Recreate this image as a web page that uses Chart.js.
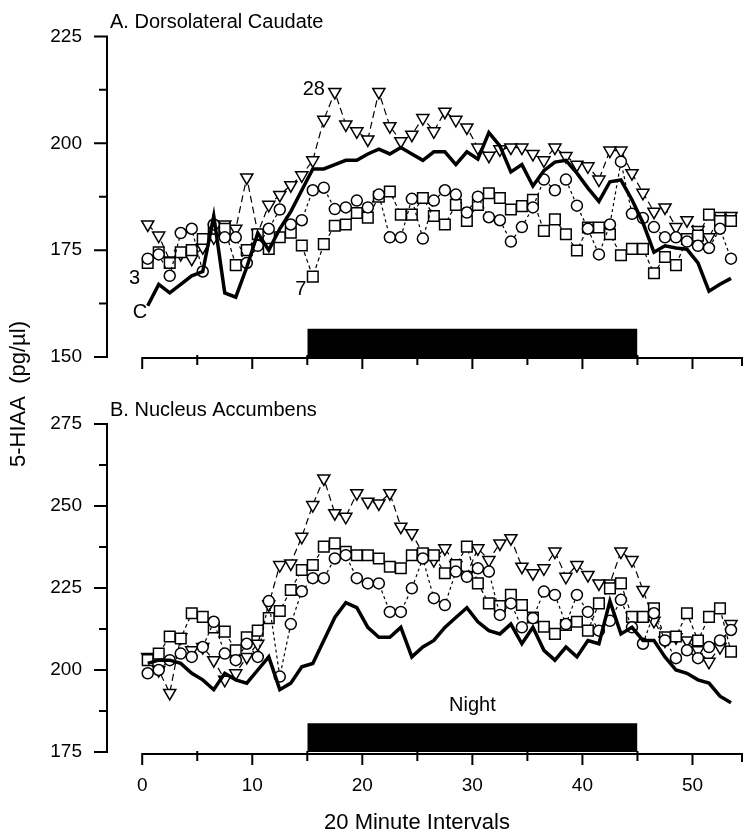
<!DOCTYPE html>
<html>
<head>
<meta charset="utf-8">
<script src="https://cdn.jsdelivr.net/npm/chart.js@4.4.1/dist/chart.umd.min.js"></script>
<style>
  html, body { margin: 0; padding: 0; background: #fff; }
  #wrap { position: relative; width: 751px; height: 840px; }
  #wrap canvas { position: absolute; left: 0; top: 0; }
</style>
</head>
<body>
<div id="wrap">
  <canvas id="panelA" width="751" height="840"></canvas>
  <canvas id="panelB" width="751" height="840"></canvas>
</div>
<script>
// 20 minute intervals (points plotted at the middle of each interval)
const intervals = [1,2,3,4,5,6,7,8,9,10,11,12,13,14,15,16,17,18,19,20,21,22,23,24,25,26,27,
  28,29,30,31,32,33,34,35,36,37,38,39,40,41,42,43,44,45,46,47,48,49,50,51,52,53,54];
const xTicks = [0, 10, 20, 30, 40, 50];
const yTicksA = [150, 175, 200, 225];
const yTicksB = [175, 200, 225, 250, 275];
const night = [15, 45];

// A. Dorsolateral Caudate, 5-HIAA pg/ul
const caudateC = [162,167,165,167,169,170,183,165,164,171, 179,175,180,184,189,194,194,195,196,196,
  197.5,198.6,197.5,199,197.5,196,198,198,195,198, 196.3,202.5,199.4,193.3,195,190,193.6,195.6,196,193,
  189.5,186.4,191,191.4,186.8,181.4,174.5,176,175.5,175.2, 172,165.4,167,168.4];
const caudate3 = [173,174,169,179,180,170,181,178,178,172, 176,180,184.5,181,182,189,189.6,184.6,185,186.6,
  185,188,178,178,187,177.7,186.6,189,188,183.8, 187.5,182.7,182,177,180.4,185,191.5,189,191.5,185.4,
  180,174,181,195.7,183.5,182.5,180.4,178,178,177, 176,175.5,180,173];
const caudate7 = [172,174.5,172,174.5,175,177.6,180,180,171.5,175, 178.7,175.3,178,179.1,176.1,168.8,176.4,180.7,181,183.7,
  182.6,187.5,188.7,183.3,183.3,187.2,183,181,185.6,181.8, 185.6,188.3,187.2,184.5,185.3,186.8,179.5,182.2,178.7,174.9,
  180.3,180.3,178.7,173.8,175.3,175.3,169.6,173.4,171.5,177.6, 178.4,183.3,181.8,181.8];
const caudate28 = [181,178.4,172.6,174.1,173,175.7,178,181,180,192, 179,185.6,187.9,190.2,192.5,196,205.5,212,204.4,202.8,
  200.9,212,204,200.5,202,205.9,202.8,207.4,205.5,203.7, 199,197.1,198.6,199,199,197.5,196,199,197,195,
  194.6,191.5,198.3,198.3,193,188.4,184,185,180.4,182, 179.7,178,183,183];

// B. Nucleus Accumbens
const accumbensC = [202,203,203,202,199,197,194,199,197,196, 200,204,194,196,201,202,209,216,220.5,219,
  213,210,210,213,204,207,209,213,216,219, 214.7,212,211,214,208,213,206,203,207,204,
  209,208,221,211,213,209,209,204,200,199, 197,196,192,190];
const accumbens3 = [199,200,203,205,204,207,214.7,205,203,208, 204,221,198,214,224,228,228,234,235,228,
  226.4,226.4,217.7,217.7,224.9,234,221.9,219.8,230,228.4, 231,230,216.8,220.3,213,215.8,223.9,222.9,214,222.9,
  217.7,212,215,221.4,213,208,217.3,209,203.6,206, 203.6,207,209,212.2];
const accumbens7 = [203,205,210.2,209.6,217.3,216.2,213,211.7,206,210, 212,215.8,218,224.4,230.5,232,237.6,238.6,236,235,
  235,234,231.5,231,235,235.6,235,229.5,232,237.6, 226.4,220.3,219.5,222.9,219.8,216,213.2,211,213.7,214.7,
  212,220.3,224.9,226.4,216.2,216.2,218.8,210,210.2,217.3, 209,216.2,218.8,205.6];
const accumbens28 = [204,200,193,210,206,207,203,197,199,204, 208,220,232,232.5,240.6,250.3,258.4,247.8,246.7,253.9,
  251.3,250.8,253.9,243.7,241.7,235.5,233.5,237.1,232,229, 237.1,233.5,238.6,240.2,231.5,229.5,231,236.1,228.4,232,
  229,226.4,226.4,236.1,233.5,224.4,215,209,210,209, 206,202.5,207,214];

const FONT = '"Liberation Sans", Arial, Helvetica, sans-serif';
Chart.defaults.font.family = FONT;
Chart.defaults.color = '#000';

function pts(vals) {
  return intervals.map((n, i) => ({ x: n - 0.5, y: vals[i] }));
}

function symbolSet(vals, style, radius, dash, order, rotation) {
  return {
    data: pts(vals),
    borderColor: '#000',
    borderWidth: 1.2,
    borderDash: dash,
    pointStyle: style,
    pointRadius: radius,
    pointRotation: rotation || 0,
    pointBorderWidth: 1.5,
    pointBorderColor: '#000',
    pointBackgroundColor: '#fff',
    fill: false,
    tension: 0,
    order: order
  };
}

function controlSet(vals) {
  return {
    data: pts(vals),
    borderColor: '#000',
    borderWidth: 3.5,
    borderJoinStyle: 'miter',
    pointRadius: 0,
    fill: false,
    tension: 0,
    order: 0
  };
}

function nightSet(top) {
  return {
    data: [{ x: night[0], y: top }, { x: night[1], y: top }],
    borderWidth: 0,
    pointRadius: 0,
    backgroundColor: '#000',
    fill: 'start',
    order: 10
  };
}

// axes drawn in the old journal style: offset x axis, outward ticks
const paperAxes = {
  id: 'paperAxes',
  afterDraw(chart, args, o) {
    const { ctx, chartArea: a, scales: { x, y } } = chart;
    ctx.save();
    ctx.strokeStyle = '#000';
    ctx.lineWidth = 2;
    ctx.lineCap = 'square';
    const top = y.getPixelForValue(y.max), bot = y.getPixelForValue(y.min);
    ctx.beginPath();
    ctx.moveTo(a.left, top); ctx.lineTo(a.left, bot);
    o.yTicks.forEach((v, i) => {
      const py = y.getPixelForValue(v);
      ctx.moveTo(a.left - 12, py); ctx.lineTo(a.left, py);
      if (i < o.yTicks.length - 1) {
        const pm = y.getPixelForValue((v + o.yTicks[i + 1]) / 2);
        ctx.moveTo(a.left - 7, pm); ctx.lineTo(a.left, pm);
      }
    });
    const xb = a.bottom + o.xGap;
    ctx.moveTo(x.getPixelForValue(0), xb); ctx.lineTo(x.getPixelForValue(x.max), xb);
    xTicks.forEach((v, i) => {
      const px = x.getPixelForValue(v);
      ctx.moveTo(px, xb); ctx.lineTo(px, xb + 10);
      if (i < xTicks.length - 1) {
        const pm = x.getPixelForValue((v + xTicks[i + 1]) / 2);
        ctx.moveTo(pm, xb - 2); ctx.lineTo(pm, xb + 6);
      }
    });
    const pe = x.getPixelForValue(x.max);
    ctx.moveTo(pe, xb); ctx.lineTo(pe, xb + 7);
    ctx.stroke();

    ctx.fillStyle = '#000';
    ctx.textBaseline = 'middle';
    ctx.font = '20px ' + FONT;
    ctx.textAlign = 'left';
    ctx.fillText(o.title, a.left + 3, a.top - 14);
    o.notes.forEach(n => {
      ctx.textAlign = n.align;
      ctx.fillText(n.text, x.getPixelForValue(n.x), y.getPixelForValue(n.y));
    });
    if (o.xTitle) {
      ctx.textAlign = 'center';
      ctx.font = '22px ' + FONT;
      ctx.fillText(o.xTitle, 417, 823);
    }
    if (o.yTitle) {
      ctx.translate(19, 394);
      ctx.rotate(-Math.PI / 2);
      ctx.textAlign = 'center';
      ctx.font = '22px ' + FONT;
      ctx.fillText(o.yTitle, 0, 0);
    }
    ctx.restore();
  }
};

function panel(id, opts) {
  return new Chart(document.getElementById(id), {
    type: 'line',
    data: {
      datasets: [
        nightSet(opts.barTop),
        symbolSet(opts.s28, 'triangle', 7, [7, 4], 3, 180),
        symbolSet(opts.s7, 'rect', 7.5, [4, 3], 2),
        symbolSet(opts.s3, 'circle', 5.5, [3, 3], 1),
        controlSet(opts.c)
      ]
    },
    options: {
      responsive: false,
      animation: false,
      events: [],
      layout: { padding: opts.padding },
      plugins: {
        legend: { display: false },
        tooltip: { enabled: false },
        paperAxes: opts.axes
      },
      scales: {
        x: {
          type: 'linear',
          min: -3.2,
          max: 54.5,
          grid: { display: false, drawTicks: false },
          border: { display: false },
          afterBuildTicks: s => { s.ticks = xTicks.map(v => ({ value: v })); },
          afterFit: s => { s.height = opts.xHeight; },
          ticks: { display: opts.xLabels, font: { size: 19 }, padding: 22, maxRotation: 0, color: '#000' }
        },
        y: {
          type: 'linear',
          min: opts.yTicks[0],
          max: opts.yTicks[opts.yTicks.length - 1],
          grid: { display: false, drawTicks: false },
          border: { display: false },
          afterBuildTicks: s => { s.ticks = opts.yTicks.map(v => ({ value: v })); },
          afterFit: s => { s.width = 107; },
          ticks: { font: { size: 19 }, padding: 25, color: '#000' }
        }
      }
    },
    plugins: [paperAxes]
  });
}

panel('panelA', {
  s28: caudate28, s7: caudate7, s3: caudate3, c: caudateC,
  barTop: 156.6,
  yTicks: yTicksA,
  padding: { left: 0, right: 9, top: 30, bottom: 0 },
  xHeight: 483,
  xLabels: false,
  axes: {
    yTicks: yTicksA, xGap: 1,
    title: 'A. Dorsolateral Caudate',
    yTitle: '5-HIAA  (pg/\u00b5l)',
    notes: [
      { text: '28', x: 16.6, y: 212.6, align: 'right' },
      { text: '3', x: -0.2, y: 168.3, align: 'right' },
      { text: 'C', x: -0.2, y: 160.3, align: 'center' },
      { text: '7', x: 14.4, y: 165.8, align: 'center' }
    ]
  }
});

panel('panelB', {
  s28: accumbens28, s7: accumbens7, s3: accumbens3, c: accumbensC,
  barTop: 183.8,
  yTicks: yTicksB,
  padding: { left: 0, right: 9, top: 424, bottom: 0 },
  xHeight: 88,
  xLabels: true,
  axes: {
    yTicks: yTicksB, xGap: 2,
    title: 'B. Nucleus Accumbens',
    xTitle: '20 Minute Intervals',
    yTitle: null,
    notes: [
      { text: 'Night', x: 30, y: 189.3, align: 'center' }
    ]
  }
});
</script>
</body>
</html>
